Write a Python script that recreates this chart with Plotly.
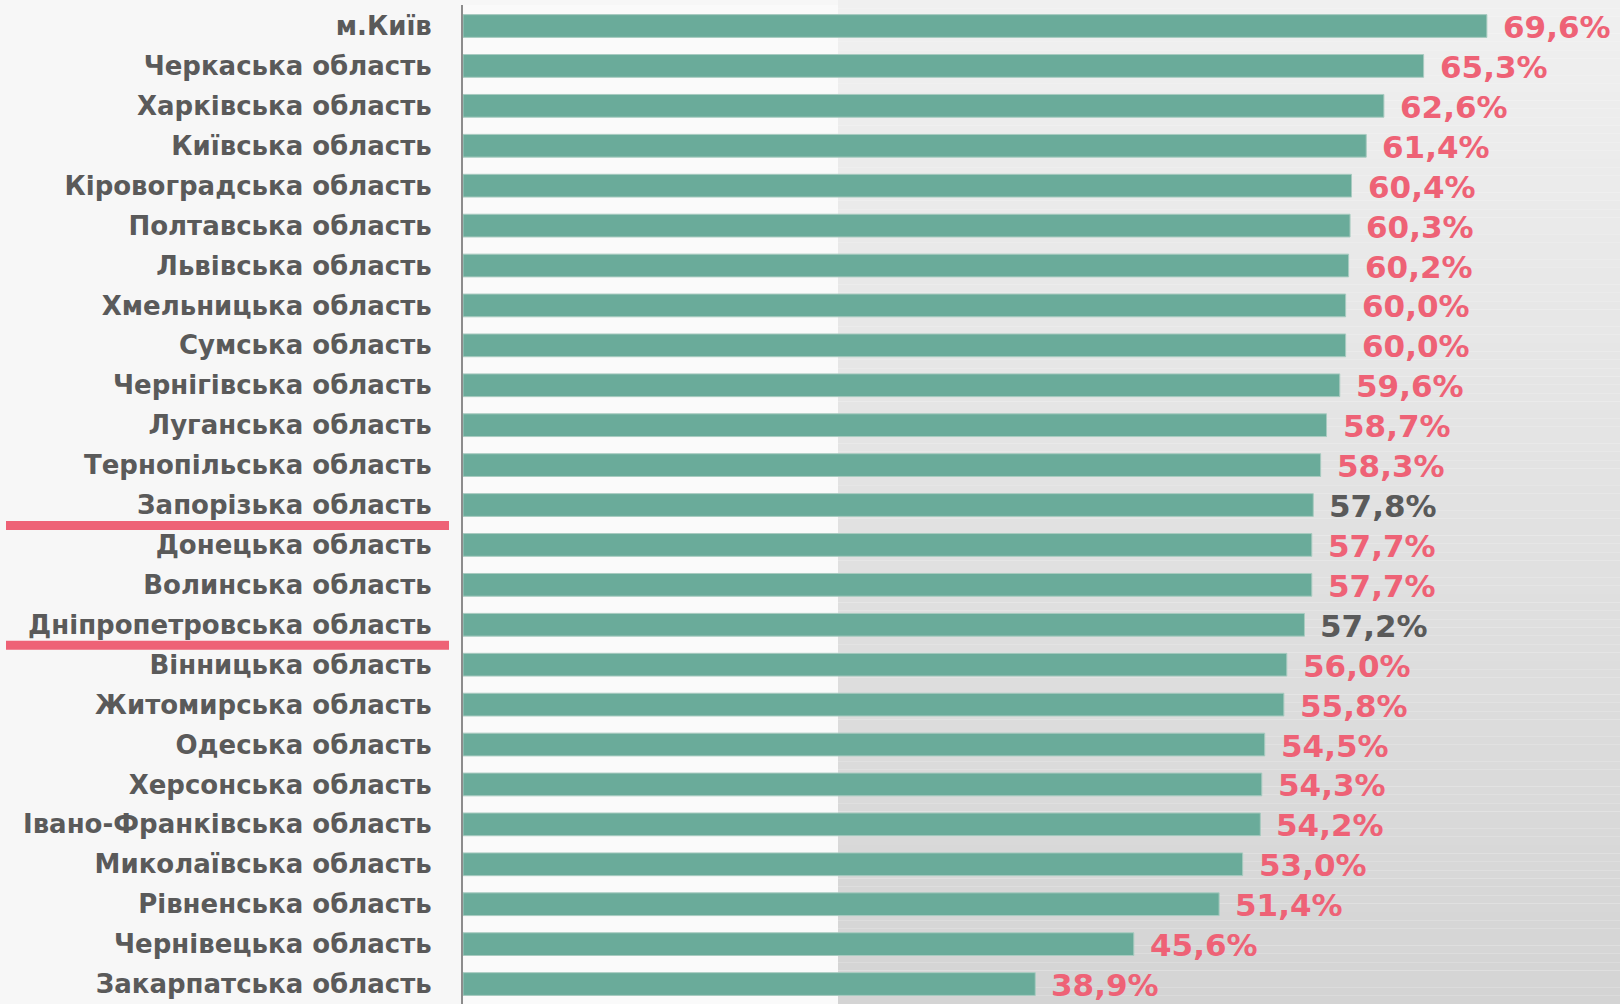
import plotly.graph_objects as go

regions = [
    "м.Київ", "Черкаська область", "Харківська область", "Київська область",
    "Кіровоградська область", "Полтавська область", "Львівська область",
    "Хмельницька область", "Сумська область", "Чернігівська область",
    "Луганська область", "Тернопільська область", "Запорізька область",
    "Донецька область", "Волинська область", "Дніпропетровська область",
    "Вінницька область", "Житомирська область", "Одеська область",
    "Херсонська область", "Івано-Франківська область", "Миколаївська область",
    "Рівненська область", "Чернівецька область", "Закарпатська область",
]
values = [69.6, 65.3, 62.6, 61.4, 60.4, 60.3, 60.2, 60.0, 60.0, 59.6, 58.7, 58.3,
          57.8, 57.7, 57.7, 57.2, 56.0, 55.8, 54.5, 54.3, 54.2, 53.0, 51.4, 45.6, 38.9]
highlighted = ["Запорізька область", "Дніпропетровська область"]

W, H = 1620, 1004
ML, MR, MT, MB = 463, 0, 5, 0
PW, PH = W - ML - MR, H - MT - MB
XMAX = 78.65

PINK = "#ee6276"
GRAY = "#5a5a5a"
FONT = "DejaVu Sans, Arial, sans-serif"

fig = go.Figure()
fig.add_trace(go.Bar(
    x=values, y=regions, orientation="h",
    marker=dict(color="#6aab9a", line=dict(color="#a8cbc0", width=1)),
    width=0.57, hoverinfo="skip",
))

# value labels
for r, v in zip(regions, values):
    txt = f"{v:.1f}%".replace(".", ",")
    fig.add_annotation(
        x=v, y=r, xref="x", yref="y", text=txt, showarrow=False,
        xanchor="left", yanchor="middle", xshift=14, yshift=-1,
        font=dict(family=FONT, size=31,
                  color=GRAY if r in highlighted else PINK, weight="bold"),
    )

shapes = []
# gradient background on the right
x0p = (838 - ML) / PW
N = 120
top_c, bot_c = 240, 212
ytop = 1 + MT / PH
for i in range(N):
    y1 = ytop - i * ytop / N
    y0 = ytop - (i + 1) * ytop / N
    c = round(top_c + (bot_c - top_c) * (i + 0.5) / N)
    shapes.append(dict(type="rect", xref="paper", yref="paper", x0=x0p, x1=1,
                       y0=y0, y1=y1, fillcolor=f"rgb({c},{c},{c})",
                       line=dict(width=0), layer="below"))

# underline highlights (just under the category boundary)
for r in highlighted:
    idx = regions.index(r)
    yp = (len(regions) - idx - 1) / len(regions) - 1.0 / PH
    shapes.append(dict(type="line", xref="paper", yref="paper",
                       x0=(6 - ML) / PW, x1=(449 - ML) / PW,
                       y0=yp, y1=yp,
                       line=dict(color=PINK, width=9)))

fig.update_layout(
    width=W, height=H,
    margin=dict(l=ML, r=MR, t=MT, b=MB),
    paper_bgcolor="#f7f7f7", plot_bgcolor="#fafafa",
    showlegend=False, shapes=shapes, bargap=0.43,
    xaxis=dict(range=[0, XMAX], visible=False, fixedrange=True),
    yaxis=dict(
        categoryorder="array", categoryarray=regions, autorange="reversed",
        showline=True, linecolor="#8c8c8c", linewidth=2,
        showgrid=False, ticks="", ticklabelstandoff=24,
        tickfont=dict(family=FONT, size=26, color=GRAY, weight="bold"),
    ),
)

fig.write_html("out.html", config={"displayModeBar": False},
               post_script="document.body.style.margin='0';document.body.style.overflow='hidden';")
